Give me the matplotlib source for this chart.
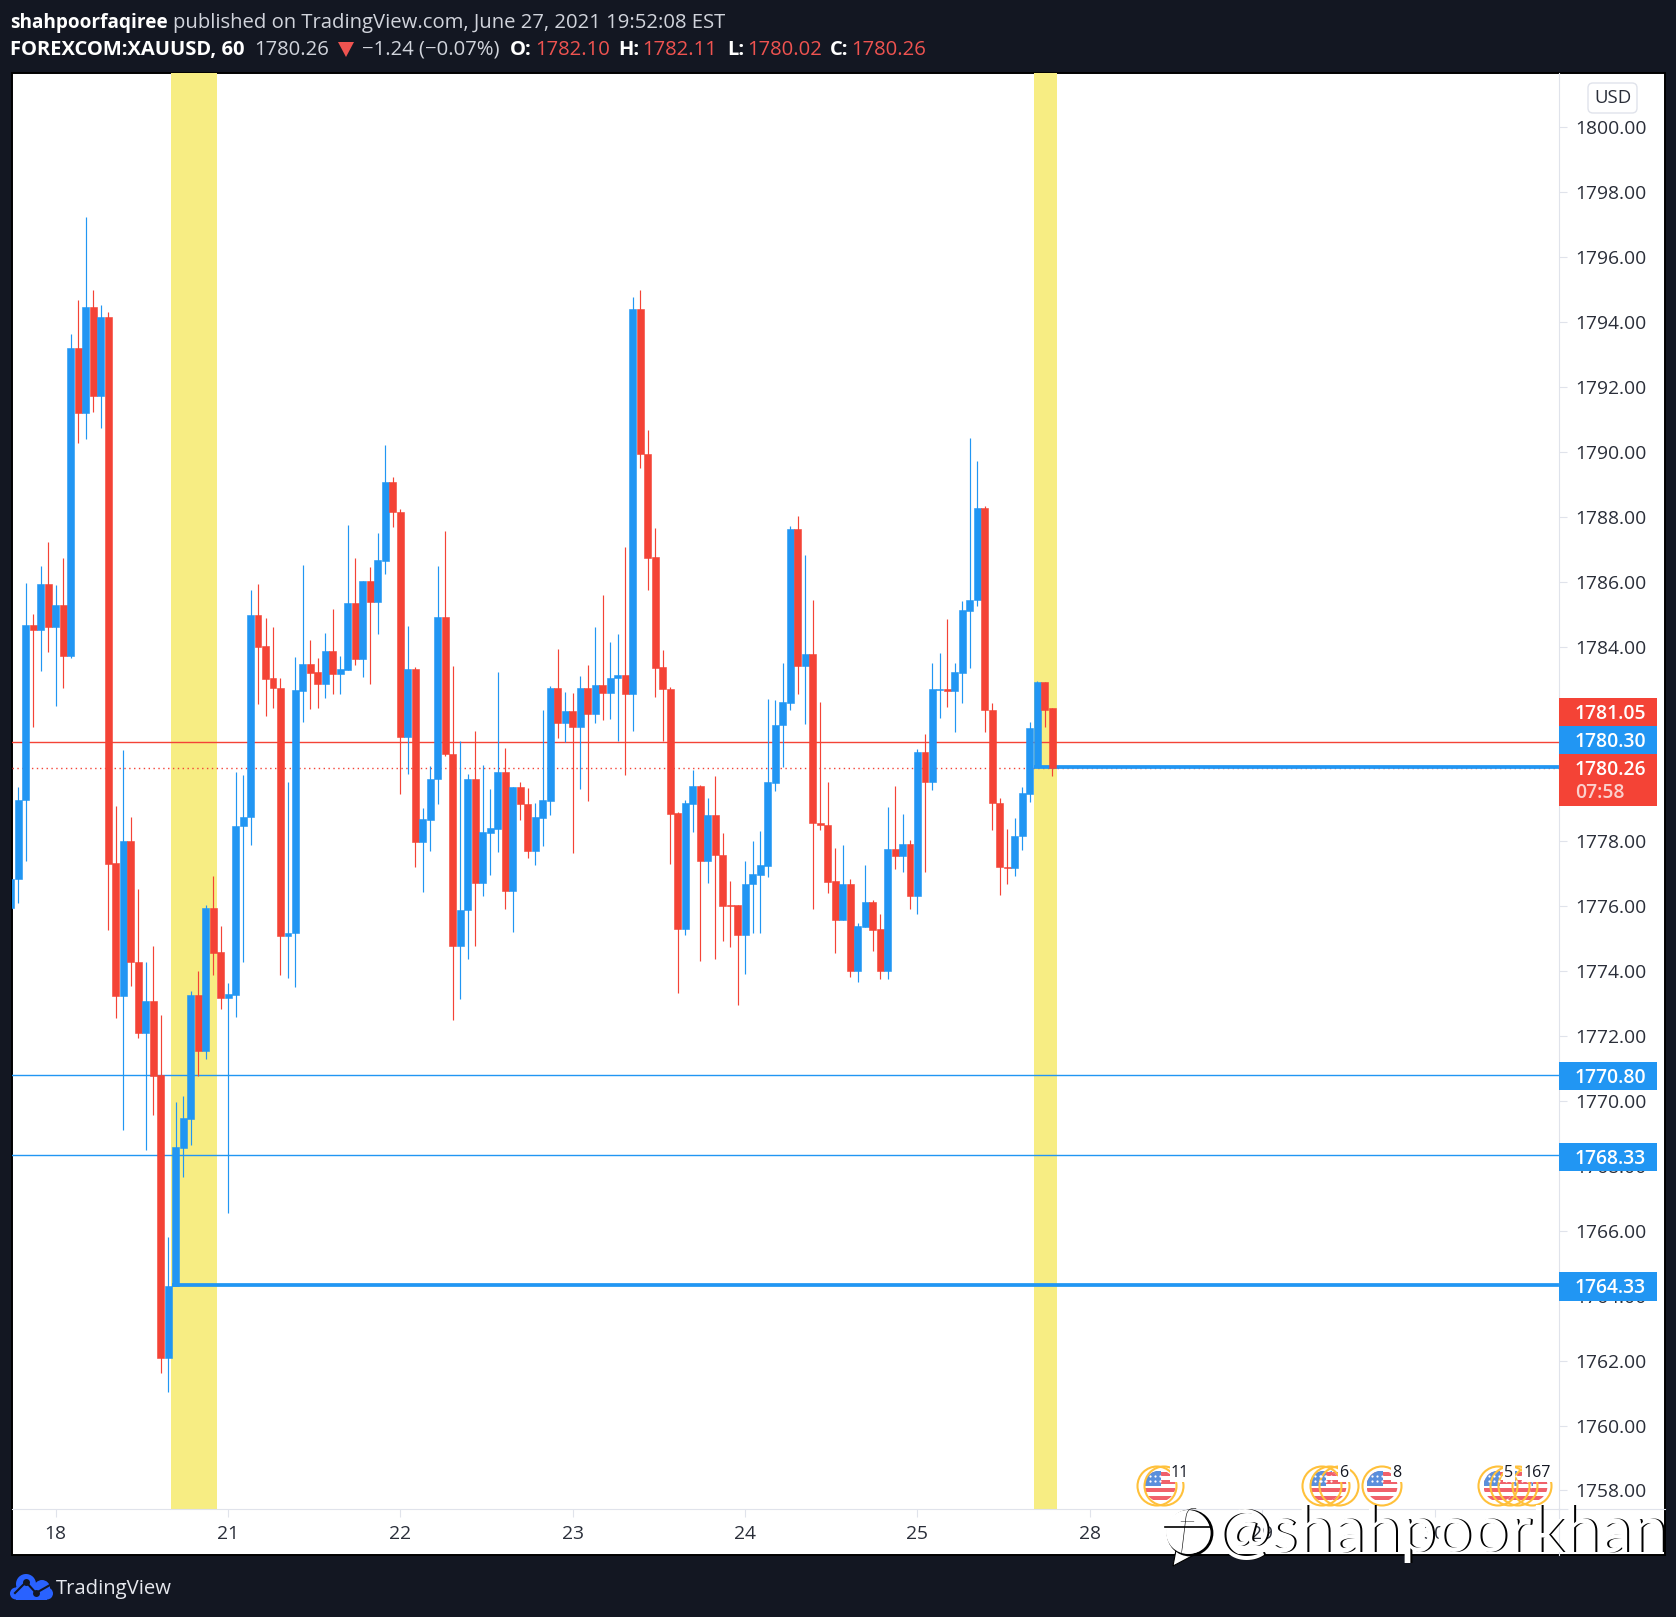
import matplotlib
matplotlib.use("Agg")
import matplotlib.pyplot as plt
from matplotlib.patches import Rectangle, Circle, Polygon, FancyBboxPatch
import numpy as np

plt.rcParams['font.family'] = ['Open Sans', 'DejaVu Sans']

W, H = 1676, 1617

# candles, one hour each
opens = [1775.96, 1776.85, 1779.26, 1784.66, 1784.52, 1785.93, 1784.59, 1785.28, 1783.72, 1793.20,
         1791.21, 1794.46, 1791.73, 1794.15, 1777.33, 1773.22, 1778.01, 1774.27, 1772.08, 1773.08,
         1770.79, 1762.09, 1764.30, 1768.55, 1769.45, 1773.26, 1771.53, 1775.95, 1774.60, 1773.18,
         1773.26, 1778.46, 1778.74, 1784.97, 1784.02, 1783.04, 1782.73, 1775.09, 1775.16, 1782.64,
         1783.46, 1783.21, 1782.86, 1783.86, 1783.14, 1783.29, 1785.35, 1783.63, 1786.02, 1785.38,
         1786.65, 1789.07, 1788.14, 1781.20, 1783.31, 1777.97, 1778.67, 1779.91, 1784.91, 1780.69,
         1774.79, 1775.87, 1779.92, 1776.73, 1778.27, 1778.38, 1780.14, 1776.48, 1779.67, 1779.14,
         1777.69, 1778.73, 1779.24, 1782.72, 1781.66, 1782.02, 1781.51, 1782.72, 1781.91, 1782.81,
         1782.56, 1783.02, 1783.12, 1782.53, 1794.40, 1789.92, 1786.77, 1783.38, 1782.69, 1778.87,
         1775.31, 1779.16, 1779.70, 1777.40, 1778.81, 1777.58, 1776.05, 1776.05, 1775.11, 1776.68,
         1776.97, 1777.25, 1779.81, 1781.57, 1782.27, 1787.62, 1783.39, 1783.76, 1778.57, 1778.50,
         1776.77, 1775.57, 1776.69, 1774.01, 1775.37, 1776.13, 1775.30, 1774.01, 1777.76, 1777.54,
         1777.91, 1776.33, 1780.75, 1779.84, 1782.66, 1782.69, 1782.62, 1783.20, 1785.11, 1785.42,
         1788.27, 1782.05, 1779.18, 1777.21, 1777.17, 1778.16, 1779.47, 1780.30, 1782.91, 1782.10]
highs = [1776.85, 1779.67, 1785.96, 1785.00, 1786.48, 1787.22, 1785.90, 1786.73, 1793.63, 1794.68,
         1797.23, 1794.98, 1794.52, 1794.30, 1779.09, 1780.81, 1778.75, 1776.54, 1774.28, 1774.78,
         1772.64, 1765.81, 1769.98, 1770.15, 1773.39, 1774.00, 1776.04, 1776.94, 1775.40, 1773.63,
         1780.14, 1780.04, 1785.74, 1785.93, 1784.89, 1784.60, 1783.04, 1779.84, 1783.67, 1786.51,
         1784.20, 1783.65, 1784.42, 1785.16, 1783.71, 1787.75, 1786.73, 1786.02, 1786.45, 1787.50,
         1790.21, 1789.22, 1788.24, 1784.63, 1783.36, 1779.03, 1780.32, 1786.48, 1787.56, 1783.40,
         1781.09, 1780.08, 1781.40, 1780.35, 1779.62, 1783.21, 1780.87, 1779.67, 1779.82, 1779.64,
         1779.18, 1782.05, 1782.78, 1783.93, 1782.60, 1782.57, 1783.09, 1783.44, 1784.60, 1785.59,
         1784.14, 1784.39, 1787.07, 1794.77, 1794.98, 1790.68, 1787.65, 1783.90, 1782.75, 1778.90,
         1779.27, 1780.21, 1779.75, 1779.33, 1780.02, 1778.26, 1776.78, 1776.05, 1777.39, 1778.02,
         1778.32, 1782.39, 1782.35, 1783.50, 1787.71, 1788.02, 1786.83, 1785.42, 1782.30, 1779.82,
         1777.79, 1777.88, 1776.84, 1775.48, 1777.27, 1776.18, 1775.77, 1779.06, 1779.70, 1778.84,
         1778.05, 1780.84, 1781.30, 1783.50, 1783.80, 1784.85, 1783.50, 1785.41, 1790.43, 1789.72,
         1788.32, 1782.26, 1779.33, 1778.37, 1778.73, 1779.67, 1781.68, 1782.94, 1782.91, 1782.11]
lows = [1775.90, 1776.10, 1777.40, 1781.51, 1783.25, 1783.83, 1782.18, 1782.73, 1783.65, 1790.27,
        1790.40, 1791.22, 1790.72, 1775.27, 1772.56, 1769.11, 1773.55, 1771.93, 1768.50, 1769.56,
        1761.63, 1761.02, 1764.30, 1767.67, 1768.64, 1770.76, 1771.28, 1773.87, 1772.82, 1766.54,
        1772.58, 1774.27, 1777.90, 1782.24, 1781.86, 1782.11, 1773.87, 1773.80, 1773.52, 1781.69,
        1782.09, 1782.12, 1782.40, 1782.55, 1782.55, 1783.29, 1783.44, 1783.07, 1782.86, 1784.40,
        1786.25, 1787.67, 1779.47, 1780.08, 1777.20, 1776.45, 1777.69, 1779.16, 1780.63, 1772.48,
        1773.15, 1774.36, 1774.79, 1776.30, 1776.95, 1777.68, 1775.93, 1775.22, 1778.65, 1777.50,
        1777.28, 1777.85, 1778.82, 1781.18, 1781.06, 1777.63, 1779.60, 1779.24, 1781.63, 1781.75,
        1781.78, 1781.08, 1780.03, 1781.40, 1789.51, 1785.75, 1782.44, 1781.08, 1777.31, 1773.34,
        1775.11, 1778.30, 1774.30, 1776.73, 1774.36, 1774.94, 1774.73, 1772.97, 1773.92, 1775.19,
        1775.16, 1776.91, 1779.54, 1780.30, 1782.05, 1782.53, 1781.60, 1775.93, 1778.36, 1776.42,
        1774.57, 1775.57, 1773.81, 1773.66, 1775.37, 1774.63, 1773.77, 1773.77, 1777.16, 1777.05,
        1775.93, 1775.77, 1777.05, 1779.57, 1781.81, 1782.15, 1781.38, 1782.27, 1783.35, 1785.26,
        1781.38, 1778.36, 1776.36, 1776.70, 1776.94, 1777.72, 1779.22, 1780.30, 1781.51, 1780.02]
closes = [1776.85, 1779.27, 1784.66, 1784.52, 1785.93, 1784.59, 1785.28, 1783.72, 1793.20, 1791.21,
          1794.46, 1791.73, 1794.15, 1777.31, 1773.22, 1778.01, 1774.27, 1772.08, 1773.08, 1770.76,
          1762.09, 1764.30, 1768.59, 1769.48, 1773.26, 1771.53, 1775.95, 1774.57, 1773.18, 1773.29,
          1778.48, 1778.75, 1784.97, 1784.00, 1783.00, 1782.71, 1775.09, 1775.17, 1782.66, 1783.46,
          1783.20, 1782.86, 1783.86, 1783.14, 1783.31, 1785.35, 1783.63, 1786.02, 1785.38, 1786.67,
          1789.07, 1788.13, 1781.20, 1783.31, 1777.97, 1778.68, 1779.92, 1784.91, 1780.68, 1774.79,
          1775.89, 1779.92, 1776.73, 1778.28, 1778.41, 1780.14, 1776.48, 1779.67, 1779.14, 1777.69,
          1778.75, 1779.27, 1782.72, 1781.66, 1782.02, 1781.51, 1782.72, 1781.91, 1782.81, 1782.56,
          1783.03, 1783.12, 1782.53, 1794.40, 1789.92, 1786.74, 1783.35, 1782.68, 1778.85, 1775.31,
          1779.18, 1779.70, 1777.40, 1778.81, 1777.57, 1776.02, 1776.02, 1775.11, 1776.69, 1776.99,
          1777.27, 1779.82, 1781.59, 1782.29, 1787.62, 1783.39, 1783.76, 1778.55, 1778.49, 1776.76,
          1775.57, 1776.69, 1774.01, 1775.39, 1776.13, 1775.28, 1774.01, 1777.76, 1777.54, 1777.91,
          1776.33, 1780.75, 1779.84, 1782.69, 1782.69, 1782.62, 1783.21, 1785.12, 1785.44, 1788.27,
          1782.05, 1779.17, 1777.20, 1777.17, 1778.17, 1779.49, 1781.50, 1782.91, 1782.05, 1780.26]

# horizontal levels
red_level = 1781.05
last_price = 1780.26
blue_thin = [1770.80, 1768.33]
blue_thick = [(22, 1764.33), (137, 1780.30)]  # (start bar, price)

# time axis
day_bars = [6, 29, 52, 75, 98, 121, 144, 167, 190]
day_labels = ["18", "21", "22", "23", "24", "25", "28", "29", "30"]

# price axis
price_ticks = list(range(1758, 1802, 2))

# yellow session bands in bars
band_bars = [(21.39, 27.53), (136.5, 139.6)]

BLUE = "#2196f3"
RED = "#f44336"
YELLOW = "#f7ed83"
DARK = "#131722"
SCALE = "#e0e3eb"

fig = plt.figure(figsize=(W / 100, H / 100), dpi=100, facecolor=DARK)


def box(x0, y0, x1, y1):
    return [x0 / W, 1 - y1 / H, (x1 - x0) / W, (y1 - y0) / H]


# white panel with its black rim
frame = fig.add_axes(box(12, 73, 1665, 1555))
frame.set_xticks([])
frame.set_yticks([])
for s in frame.spines.values():
    s.set_color("black")
    s.set_linewidth(1.4)

ax = fig.add_axes(box(12, 73, 1559, 1509))
ax.patch.set_alpha(0)
xs = np.arange(len(opens))
ax.set_xlim(0.173, 206.6)
ax.set_ylim(1757.43, 1801.67)

for b0, b1 in band_bars:
    ax.axvspan(b0, b1, color=YELLOW, lw=0, zorder=1)

ax.axhline(red_level, color=RED, lw=1.0, zorder=2)
ax.axhline(last_price, color=RED, lw=1.0, ls=(0, (1, 2.5)), zorder=2)
for p in blue_thin:
    ax.axhline(p, color=BLUE, lw=1.0, zorder=2)
for start, p in blue_thick:
    ax.hlines(p, start - 0.45, 206.6, color=BLUE, lw=2.7, zorder=2)

colors = [BLUE if c >= o else RED for o, c in zip(opens, closes)]
ax.vlines(xs, lows, highs, colors=colors, lw=0.85, zorder=3)
bottoms = [min(o, c) for o, c in zip(opens, closes)]
heights = [abs(c - o) for o, c in zip(opens, closes)]
ax.bar(xs, heights, bottom=bottoms, width=0.93, color=colors, edgecolor=colors, lw=0.4, zorder=4)

ax.yaxis.tick_right()
ax.set_yticks(price_ticks)
ax.set_yticklabels([f"{p:.2f}" for p in price_ticks])
ax.set_xticks(day_bars)
ax.set_xticklabels(day_labels)
ax.tick_params(axis="y", length=5.5, width=0.8, color=SCALE, labelcolor="#2a2e39", labelsize=13.9, pad=6.3)
ax.tick_params(axis="x", length=5.5, width=0.8, color=SCALE, labelcolor="#2a2e39", labelsize=13.9, pad=6)
for s in ["top", "left"]:
    ax.spines[s].set_visible(False)
for s in ["right", "bottom"]:
    ax.spines[s].set_color(SCALE)
    ax.spines[s].set_linewidth(0.8)

# everything else is placed in picture pixels
ov = fig.add_axes([0, 0, 1, 1], zorder=10)
ov.set_xlim(0, W)
ov.set_ylim(H, 0)
ov.axis("off")
ov.patch.set_alpha(0)
ov.plot([1559, 1559], [1509, 1555], color=SCALE, lw=0.8)
ov.plot([1665, 1559], [1509, 1509], color=SCALE, lw=0.8)

# price tags on the scale
tags = [(698, 726, RED, "1781.05"), (726, 754, BLUE, "1780.30"), (754, 806, RED, "1780.26"),
        (1062, 1090, BLUE, "1770.80"), (1143, 1171, BLUE, "1768.33"), (1272, 1301, BLUE, "1764.33")]
for y0, y1, col, txt in tags:
    ov.add_patch(Rectangle((1559, y0), 98, y1 - y0, color=col, lw=0))
    ov.text(1575, y0 + 16, txt, color="white", fontsize=13.9, fontweight="semibold", va="center", ha="left")
ov.text(1575, 793, "07:58", color="#fbd0cc", fontsize=13.9, fontweight="semibold", va="center", ha="left")

ov.add_patch(FancyBboxPatch((1588, 83), 49, 30, boxstyle="round,pad=0,rounding_size=5", fc="white", ec=SCALE, lw=1))
ov.text(1612.5, 98, "USD", color="#2a2e39", fontsize=13.4, ha="center", va="center")

# header
head = [(10, 23, "shahpoorfaqiree", "white", "bold", 13.7),
        (173, 23, "published on TradingView.com, June 27, 2021 19:52:08 EST", "#d1d4dc", "normal", 14.6),
        (10, 50, "FOREXCOM:XAUUSD, 60", "white", "bold", 14.5),
        (254, 50, "1780.26", "#d1d4dc", "normal", 14.6),
        (362, 50, "\u22121.24 (\u22120.07%)", "#d1d4dc", "normal", 14.6),
        (510, 50, "O:", "white", "bold", 14.5), (535, 50, "1782.10", "#ef5350", "normal", 14.6),
        (618, 50, "H:", "white", "bold", 14.5), (642, 50, "1782.11", "#ef5350", "normal", 14.6),
        (727, 50, "L:", "white", "bold", 14.5), (747, 50, "1780.02", "#ef5350", "normal", 14.6),
        (830, 50, "C:", "white", "bold", 14.5), (851, 50, "1780.26", "#ef5350", "normal", 14.6)]
for x, y, txt, col, wt, size in head:
    ov.text(x, y, txt, color=col, fontweight=wt, fontsize=size, ha="left", va="center")
ov.add_patch(Polygon([(338, 42), (354, 42), (346, 57)], color="#ef5350", lw=0))

# footer logo
logo = "#2962ff"
ov.add_patch(Circle((26, 1584), 10, color=logo, lw=0))
ov.add_patch(Circle((42, 1588), 8, color=logo, lw=0))
ov.add_patch(Circle((47, 1593.5), 6, color=logo, lw=0))
ov.add_patch(Circle((16, 1593.5), 6, color=logo, lw=0))
ov.add_patch(Rectangle((16, 1587), 31, 12.5, color=logo, lw=0))
ov.plot([15, 26, 36, 50], [1593, 1582, 1593, 1585], color=DARK, lw=1.5)
ov.plot([26, 36], [1582, 1593], "o", color=DARK, ms=5, mew=0)
ov.text(56, 1588.5, "TradingView", color="#e6e8ee", fontsize=14.6, ha="left", va="center")


def flag(cx, cy, r=15.5):
    clip = Circle((cx, cy), r, transform=ov.transData)
    parts = [Rectangle((cx - r, cy - r), 2 * r, 2 * r, color="white", lw=0)]
    for k in range(4):
        parts.append(Rectangle((cx - r, cy - r + 1 + k * 8), 2 * r, 4, color="#f0616b", lw=0))
    parts.append(Rectangle((cx - r, cy - r), r + 1, r, color="#5a8fdc", lw=0))
    for p in parts:
        ov.add_patch(p)
        p.set_clip_path(clip)
    for i in range(3):
        for j in range(2):
            d, = ov.plot(cx - r + 5 + i * 5, cy - r + 5 + j * 5, "o", color="white", ms=1.6, mew=0)
            d.set_clip_path(clip)


for cx in [1160, 1331, 1382, 1532, 1516, 1499]:
    flag(cx, 1486)
flag(1325, 1486)
for cx in [1157, 1164, 1322, 1330, 1339, 1382, 1498, 1510, 1518, 1532]:
    ov.add_patch(Circle((cx, 1486), 19.5, fill=False, ec="#ffc13b", lw=1.5))
for x, txt in [(1180, "11"), (1344, "6"), (1397, "8"), (1509, "5"), (1537, "167")]:
    ov.text(x, 1473, txt, color="#131722", fontsize=11.5, ha="center", va="center",
            bbox=dict(fc="white", ec="none", pad=0.8))

# watermark, white letters with a black offset copy
mark = "@shahpoorkhan"
ov.text(1218.5, 1552, mark, color="black", fontsize=46, ha="left", va="baseline", family=["Lato", "DejaVu Sans"])
ov.text(1217, 1551.5, mark, color="white", fontsize=46, ha="left", va="baseline", family=["Lato", "DejaVu Sans"])
ov.add_patch(Polygon([(1173, 1566), (1176, 1550), (1192, 1556)], fc="white", ec="black", lw=0.8))
ov.add_patch(Circle((1190, 1533), 22, fill=False, ec="black", lw=2))
ov.add_patch(Circle((1188, 1532), 22, fc="white", ec="none"))
ov.text(1186, 1531, "f", color="black", fontsize=40, fontweight="light", style="italic", ha="center", va="center", family=["Lato", "DejaVu Sans"])
ov.plot([1165, 1210], [1527, 1527], color="black", lw=1.2)

fig.savefig("out.png", dpi=100, facecolor=DARK)
